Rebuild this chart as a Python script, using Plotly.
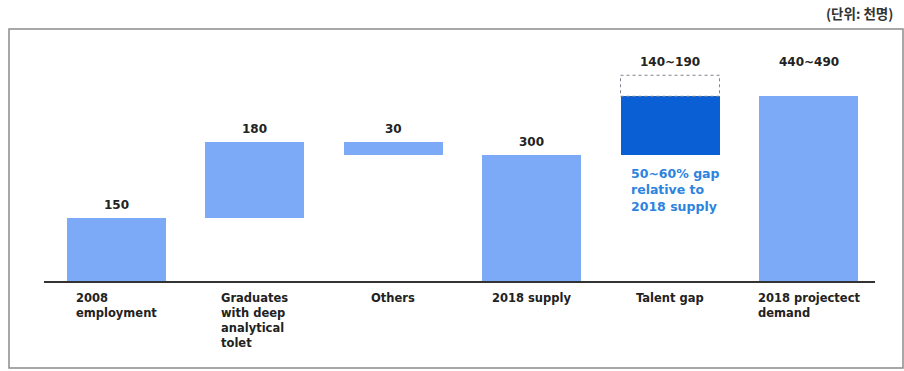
import plotly.graph_objects as go

# ---- data ----
categories = ["2008 employment", "Graduates with deep analytical tolet", "Others",
              "2018 supply", "Talent gap", "2018 projectect demand"]
tick_labels = ["2008<br>employment", "Graduates<br>with deep<br>analytical<br>tolet", "Others",
               "2018 supply", "Talent gap", "2018 projectect<br>demand"]
bar_base = [0, 150, 300, 0, 300, 0]
bar_value = [150, 180, 30, 300, 140, 440]
range_extra = [0, 0, 0, 0, 50, 50]          # upper end of the range (dashed part)
value_labels = ["150", "180", "30", "300", "140~190", "440~490"]
gap_note = "50~60% gap<br>relative to<br>2018 supply"
unit_label = "(단위: 천명)"

LIGHT = "#7caaf6"
DARK = "#0a5fd5"
colors = [LIGHT, LIGHT, LIGHT, LIGHT, DARK, LIGHT]
FONT = "DejaVu Sans"

W, H = 904, 371
ML, MR, MT, MB = 44, 29, 40, 90
BARW = 0.715

x = list(range(len(categories)))
fig = go.Figure()
fig.add_trace(go.Bar(
    x=x, y=bar_value, base=bar_base, width=BARW,
    marker=dict(color=colors, line=dict(width=0)),
    hoverinfo="skip", showlegend=False,
))

# dashed range box for talent gap
gi = categories.index("Talent gap")
top_gap = bar_base[gi] + bar_value[gi]
fig.add_shape(type="rect", xref="x", yref="y",
              x0=gi - BARW / 2, x1=gi + BARW / 2,
              y0=top_gap, y1=top_gap + range_extra[gi],
              line=dict(color="#7f8590", width=1, dash="dot"),
              fillcolor="rgba(255,255,255,0)")

# value labels
for i, lab in enumerate(value_labels):
    top = bar_base[i] + bar_value[i] + range_extra[i]
    fig.add_annotation(x=i, y=top, text="<b>%s</b>" % lab, showarrow=False,
                       yanchor="bottom", yshift=4,
                       font=dict(family=FONT, size=12, color="#222222"))

# category labels (multi-line, left-aligned block centered under bar)
for i, lab in enumerate(tick_labels):
    fig.add_annotation(x=i, y=0, text="<b>%s</b>" % lab, showarrow=False,
                       xanchor="center", yanchor="top", align="left", yshift=-8,
                       font=dict(family=FONT, size=11.5, color="#222222"))

# gap note
fig.add_annotation(x=gi - BARW / 2, y=bar_base[gi], text="<b>%s</b>" % gap_note,
                   showarrow=False, xanchor="left", yanchor="top", align="left",
                   xshift=8, yshift=-9,
                   font=dict(family=FONT, size=12.5, color="#2d84de"))

pw, ph = W - ML - MR, H - MT - MB

# unit label
fig.add_annotation(xref="paper", yref="paper", x=(895 - ML) / pw,
                   y=1 + (MT - 13) / ph,
                   text="<b>%s</b>" % unit_label, showarrow=False,
                   xanchor="right", yanchor="middle",
                   font=dict(family="Noto Sans CJK KR", size=13.5, color="#333333"))

# outer frame
fig.add_shape(type="rect", xref="paper", yref="paper",
              x0=(9 - ML) / pw, x1=(903 - ML) / pw,
              y0=(H - MB - 368) / ph, y1=(H - MB - 29) / ph,
              line=dict(color="#8c8c8c", width=1.5), layer="below")

fig.update_layout(
    width=W, height=H,
    margin=dict(l=ML, r=MR, t=MT, b=MB),
    paper_bgcolor="white", plot_bgcolor="white",
    xaxis=dict(range=[-0.52, 5.48], showticklabels=False, showgrid=False,
               zeroline=False, showline=True, linecolor="#333333", linewidth=1.5,
               ticks=""),
    yaxis=dict(range=[0, 574], visible=False, showgrid=False, zeroline=False),
    bargap=0,
)

fig.write_html("out.html")
